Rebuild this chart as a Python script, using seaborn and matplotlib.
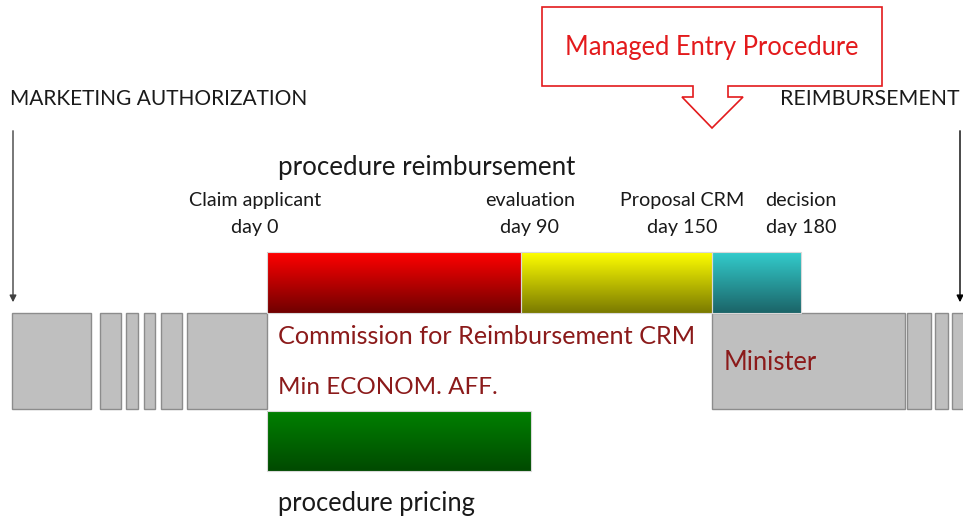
import numpy as np
import matplotlib.pyplot as plt
import matplotlib.patches as mpatches
from matplotlib.colors import to_rgb
import seaborn as sns

sns.set_theme(style="white")
plt.rcParams['font.family'] = ['Lato', 'DejaVu Sans']

# grey blocks before and after the procedure (start, end) in diagram units
grigi_sx = [(12, 91), (100, 121), (126, 138), (144, 155), (161, 182), (187, 267)]
grigi_dx = [(712, 905), (907, 931), (935, 948), (952, 975)]

# phases of the reimbursement procedure: start, end, top colour, bottom colour
fasi = ['CRM', 'evaluation', 'decision']
fasi_inizio = [267, 521, 712]
fasi_fine = [521, 712, 801]
colori_alto = ['#ff0000', '#ffff00', '#33cccc']
colori_basso = ['#700000', '#7a7a00', '#1b6468']

# pricing procedure
prezzo_inizio, prezzo_fine = 267, 531

# milestones
tappe = ['Claim applicant\nday 0', 'evaluation\nday 90', 'Proposal CRM\nday 150', 'decision\nday 180']
tappe_x = [255, 530, 682, 801]

fig, ax = plt.subplots(figsize=(9.63, 5.21), dpi=100)
fig.subplots_adjust(0, 0, 1, 1)
ax.set_xlim(0, 963)
ax.set_ylim(521, 0)
ax.axis('off')

def sfumatura(x0, x1, y0, y1, c_alto, c_basso):
    # vertical gradient bar
    a = np.array(to_rgb(c_alto))
    b = np.array(to_rgb(c_basso))
    t = np.linspace(0, 1, 100)[:, None]
    img = (a * (1 - t) + b * t)[:, None, :]
    ax.imshow(img, extent=[x0, x1, y1, y0], aspect='auto', zorder=2)
    ax.add_patch(mpatches.Rectangle((x0, y0), x1 - x0, y1 - y0, fill=False,
                                    edgecolor='#d9d9d9', lw=0.8, zorder=3))

# grey blocks
for x0, x1 in grigi_sx + grigi_dx:
    ax.add_patch(mpatches.Rectangle((x0, 313), x1 - x0, 96, facecolor='#bfbfbf',
                                    edgecolor='#8c8c8c', lw=1, zorder=1))

# coloured phases
for i in range(len(fasi)):
    sfumatura(fasi_inizio[i], fasi_fine[i], 252, 313, colori_alto[i], colori_basso[i])

sfumatura(prezzo_inizio, prezzo_fine, 411, 471, '#008000', '#004a00')

# arrows
ax.annotate('', xy=(13, 305), xytext=(13, 128),
            arrowprops=dict(arrowstyle='-|>', color='#404040', lw=1, mutation_scale=10))
ax.annotate('', xy=(960, 305), xytext=(960, 128),
            arrowprops=dict(arrowstyle='-|>', color='#000000', lw=1, mutation_scale=10))

# callout
callout = [(542, 7), (882, 7), (882, 86), (728, 86), (728, 97), (743, 97), (712, 128),
           (682, 97), (693, 97), (693, 86), (542, 86)]
ax.add_patch(mpatches.Polygon(callout, closed=True, facecolor='white',
                              edgecolor='#e31a1c', lw=1.2, zorder=5))
ax.text(712, 47, 'Managed Entry Procedure', color='#e31a1c', fontsize=18.4,
        ha='center', va='center', zorder=6)

# labels
ax.text(10, 99, 'MARKETING AUTHORIZATION', fontsize=15, color='#1a1a1a', va='center')
ax.text(780, 99, 'REIMBURSEMENT', fontsize=15.3, color='#1a1a1a', va='center')
ax.text(278, 168, 'procedure reimbursement', fontsize=18.6, color='#1a1a1a', va='center')
for lab, x in zip(tappe, tappe_x):
    ax.text(x, 214, lab, fontsize=14.2, color='#1a1a1a', ha='center', va='center',
            linespacing=1.65)

rosso_scuro = '#8b1a1a'
ax.text(278, 336, 'Commission for Reimbursement CRM', fontsize=18.2, color=rosso_scuro, va='center')
ax.text(278, 388, 'Min ECONOM. AFF.', fontsize=17.5, color=rosso_scuro, va='center')
ax.text(724, 362, 'Minister', fontsize=18.4, color=rosso_scuro, va='center')
ax.text(278, 504, 'procedure pricing', fontsize=18.4, color='#1a1a1a', va='center')

plt.savefig('out.png', dpi=100)
